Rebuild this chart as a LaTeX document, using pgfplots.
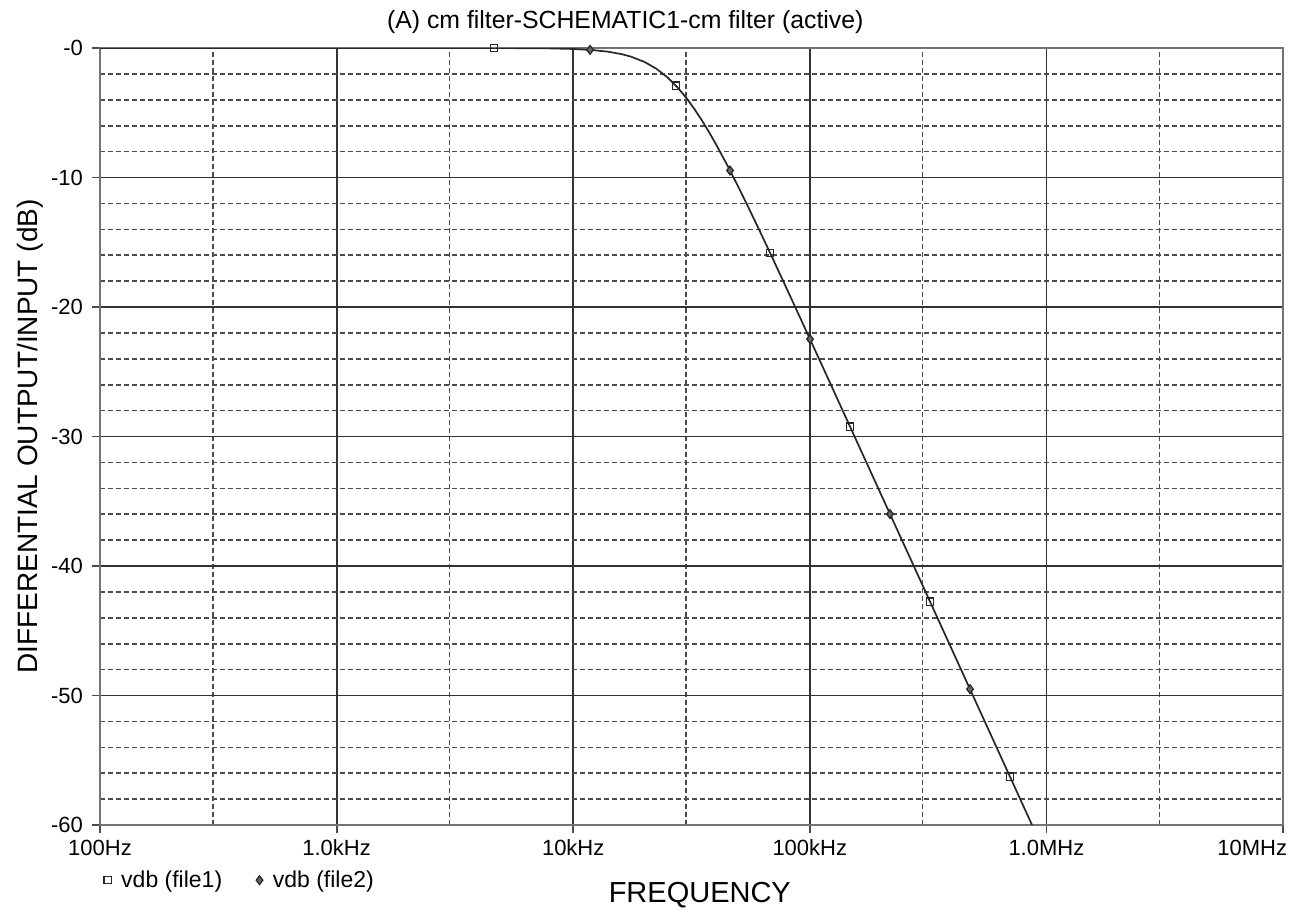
\documentclass[border=0pt]{standalone}
\usepackage{fontspec}
\setmainfont{Liberation Sans}
\usepackage{pgfplots}
\pgfplotsset{compat=1.18}
\begin{document}
\begin{tikzpicture}
\begin{axis}[
  scale only axis,
  width=591.5pt, height=388.5pt,
  xmode=log,
  xmin=100, xmax=1e7,
  ymin=-60, ymax=0,
  xtick={100,1000,10000,100000,1000000,10000000},
  xticklabels={100Hz,1.0kHz,10kHz,100kHz,1.0MHz,\makebox[0pt][r]{10MHz\hspace{-2pt}}},
  minor xtick={300,3000,30000,300000,3000000},
  ytick={0,-10,-20,-30,-40,-50,-60},
  yticklabels={-0,-10,-20,-30,-40,-50,-60},
  minor ytick={-2,-4,-6,-8,-12,-14,-16,-18,-22,-24,-26,-28,-32,-34,-36,-38,-42,-44,-46,-48,-52,-54,-56,-58},
  grid=both,
  major grid style={black!80, line width=0.9pt},
  minor grid style={black!70, line width=0.8pt, dash pattern=on 2.6pt off 1.4pt},
  axis line style={black!55, line width=1.3pt},
  tick align=outside, tick pos=left,
  major tick length=4pt, minor tick length=0pt,
  tick style={black!70, line width=0.9pt},
  tick label style={font=\fontsize{11}{12}\selectfont},
  xticklabel style={anchor=north, text height=8pt, text depth=0pt, yshift=0.5pt},
  yticklabel style={xshift=-1pt},
  xlabel={FREQUENCY},
  xlabel style={at={(axis description cs:0.507,-0.09)}, anchor=center, font=\fontsize{14.5}{16}\selectfont},
  ylabel={DIFFERENTIAL OUTPUT/INPUT (dB)},
  ylabel style={at={(axis description cs:-0.0592,0.5)}, anchor=center, font=\fontsize{14}{16}\selectfont},
  title={(A) cm filter-SCHEMATIC1-cm filter (active)},
  title style={at={(axis description cs:0.444,1.018)}, anchor=center, font=\fontsize{12.4}{13}\selectfont},
  legend style={at={(axis description cs:-0.002,-0.071)}, anchor=west, draw=none, fill=none,
    font=\fontsize{11.5}{13}\selectfont,
    /tikz/every odd column/.append style={column sep=3pt},
    /tikz/every even column/.append style={column sep=15pt}},
  legend columns=2,
  legend cell align=left,
  clip=true,
]
\coordinate (ll) at (rel axis cs:0,0);
% curve
\addplot[black!85, line width=0.85pt, forget plot] coordinates {
(100,0) (1000,0) (5000,-0.005) (8000,-0.031) (10000,-0.075) (12000,-0.155)
(14000,-0.282) (16000,-0.471) (17500,-0.660) (20000,-1.072) (22500,-1.608)
(25000,-2.261) (27500,-3.010) (30000,-3.832) (32500,-4.699) (35000,-5.592)
(37500,-6.491) (40000,-7.385) (45000,-9.122) (50000,-10.766) (55000,-12.304)
(60000,-13.74) (65000,-15.08) (70000,-16.33) (80000,-18.61) (90000,-20.634)
(100000,-22.45) (120000,-25.605) (150000,-29.48) (200000,-34.47) (250000,-38.345)
(300000,-41.51) (400000,-46.509) (500000,-50.39) (700000,-56.23) (872000,-60.05)
};
% markers file1 (squares)
\addplot[only marks, mark=square, mark size=1.8pt, mark options={black!85, line width=0.6pt, fill=white}] coordinates {
(4624,0) (27180,-2.91) (67900,-15.82) (147900,-29.23) (322200,-42.75) (701800,-56.27)
};
\addlegendentry{vdb (file1)}
% markers file2 (diamonds)
\addplot[only marks, mark=diamond*, mark size=2.2pt, mark options={black!85, line width=0.6pt, fill=black!60}] coordinates {
(11780,-0.144) (46000,-9.46) (100200,-22.48) (218300,-35.99) (475500,-49.51)
};
\addlegendentry{vdb (file2)}
\end{axis}
\path (ll) ++(-50pt,-42pt) rectangle ++(648pt,454.5pt);
\end{tikzpicture}
\end{document}
